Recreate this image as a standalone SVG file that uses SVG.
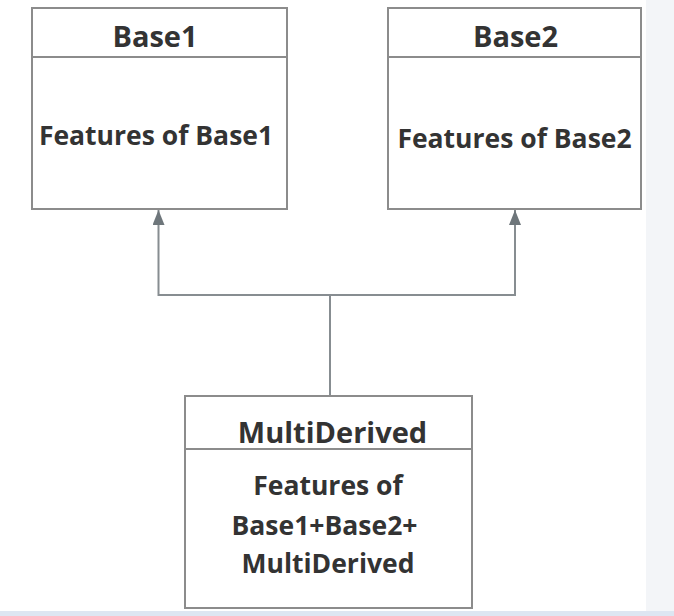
<svg xmlns="http://www.w3.org/2000/svg" width="674" height="616" viewBox="0 0 674 616">
<style>
.box{fill:#fff;stroke:#8c8c8c;stroke-width:2}
.sep{stroke:#8c8c8c;stroke-width:2}
.t{font-family:"Open Sans","Liberation Sans",sans-serif;font-weight:700;fill:#333;text-anchor:middle}
.title{font-size:29px}
.body{font-size:26.5px}
.conn{fill:none;stroke:#878d91;stroke-width:2}
</style>
<defs>
<marker id="arr" markerWidth="15" markerHeight="12" refX="15" refY="6" orient="auto" markerUnits="userSpaceOnUse" viewBox="0 0 15 12">
<path d="M0,0 L15,6 L0,12 Z" fill="#6e767b"/>
</marker>
</defs>
<rect x="0" y="0" width="674" height="616" fill="#fff"/>
<rect x="646" y="0" width="28" height="616" fill="#f3f5f8"/>
<rect x="0" y="611" width="674" height="5" fill="#dde6f2"/>
<g id="connectors">
<path class="conn" d="M330,396 V295"/>
<path class="conn" d="M330,295 H158.5 V210" marker-end="url(#arr)"/>
<path class="conn" d="M330,295 H515 V210" marker-end="url(#arr)"/>
</g>
<g id="base1">
<rect class="box" x="32" y="8" width="255" height="201"/>
<line class="sep" x1="32" y1="57" x2="287" y2="57"/>
<text class="t title" x="155" y="47">Base1</text>
<text class="t body" x="156" y="145">Features of Base1</text>
</g>
<g id="base2">
<rect class="box" x="388" y="8" width="253" height="201"/>
<line class="sep" x1="388" y1="57" x2="641" y2="57"/>
<text class="t title" x="515.5" y="47">Base2</text>
<text class="t body" x="514.5" y="148">Features of Base2</text>
</g>
<g id="multiderived">
<rect class="box" x="185" y="396" width="287" height="212"/>
<line class="sep" x1="185" y1="449" x2="472" y2="449"/>
<text class="t title" x="332.5" y="443">MultiDerived</text>
<text class="t body" x="328" y="495">Features of</text>
<text class="t body" x="324.5" y="535">Base1+Base2+</text>
<text class="t body" x="328" y="573">MultiDerived</text>
</g>
</svg>
